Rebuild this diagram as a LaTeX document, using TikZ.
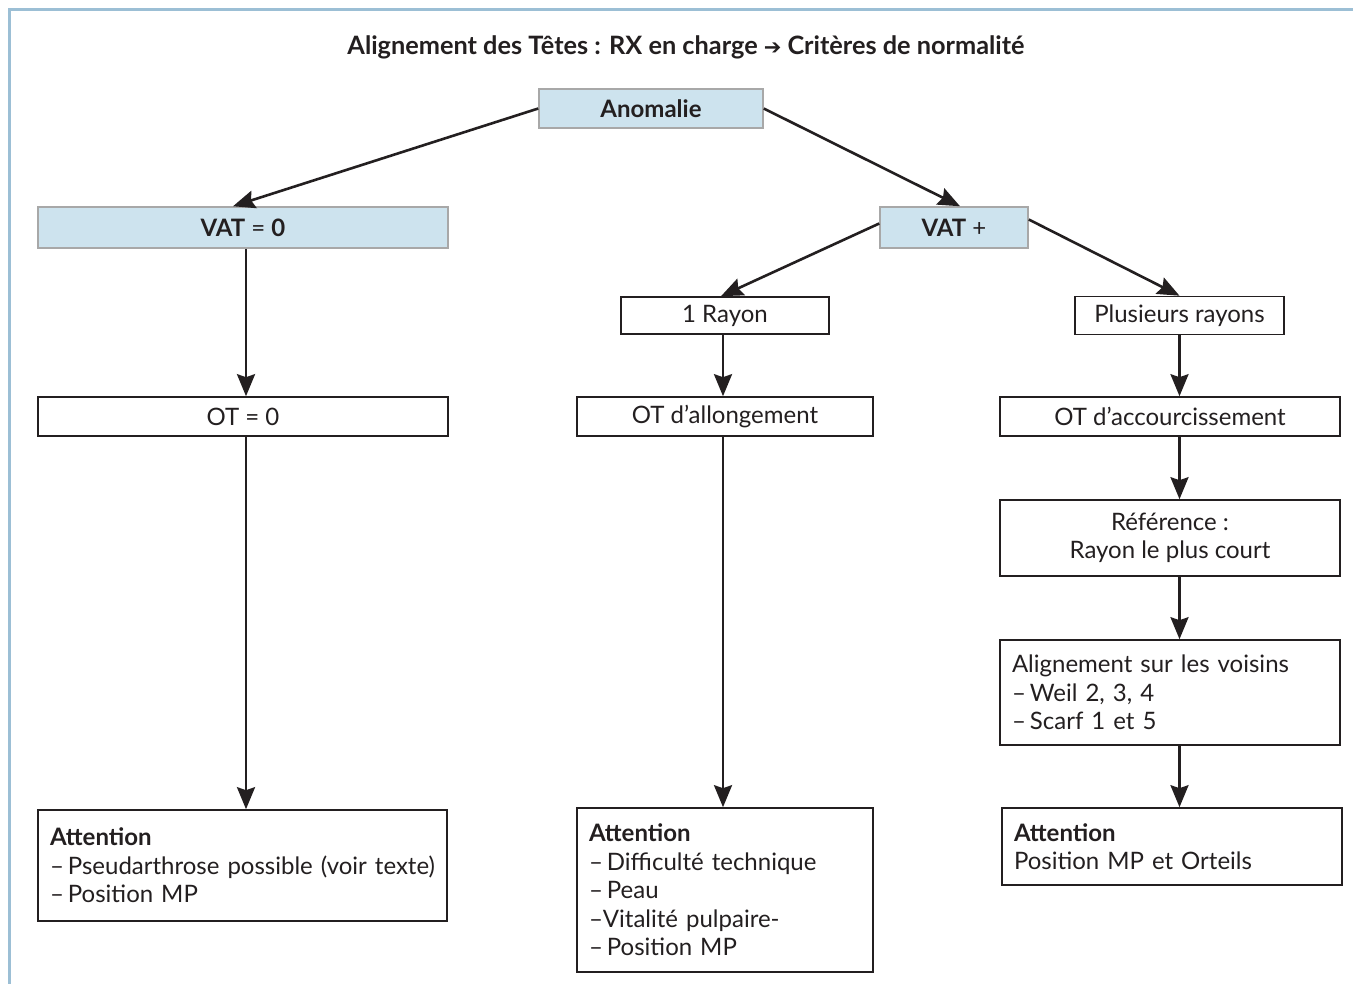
\documentclass[tikz,border=0pt]{standalone}
\usepackage{fontspec}
\setmainfont{Lato}
\newfontfamily\dejavu{DejaVu Sans}
\usetikzlibrary{arrows.meta}
\definecolor{frameblue}{HTML}{9CBFD5}
\definecolor{boxblue}{HTML}{CDE3EE}
\definecolor{boxgray}{HTML}{A8A8A8}
\definecolor{ink}{HTML}{231F20}
\begin{document}
\begin{tikzpicture}[x=1pt,y=-1pt,
  every node/.style={font=\fontsize{24}{28.5}\selectfont, text=ink},
  bluebox/.style={draw=boxgray, line width=1.5pt, fill=boxblue, inner sep=0pt},
  whitebox/.style={draw=ink, line width=1.6pt, fill=white, inner sep=0pt},
  leftbox/.style={whitebox, align=left, inner xsep=12pt},
  arr/.style={draw=ink, line width=2.6pt, -{Stealth[length=22pt,width=18pt,inset=3pt]}}
]
\useasboundingbox (0,0) rectangle (1353,984);
\fill[white] (0,0) rectangle (1353,984);
\draw[frameblue, line width=3pt] (9,984) -- (9,10) -- (1353,10);

\node[font=\fontsize{25.3}{28}\selectfont\bfseries] (title) at (686,47)
  {Alignement des Têtes : RX en charge {\dejavu\mdseries\fontsize{21}{24}\selectfont ➔} Critères de normalité};

\node[bluebox, minimum width=224pt, minimum height=39pt] (anom) at (651,108.5) {\bfseries Anomalie};
\node[bluebox, minimum width=410pt, minimum height=41pt] (vat0) at (243,227.5) {\textbf{VAT} = \textbf{0}};
\node[bluebox, minimum width=148pt, minimum height=41pt] (vatp) at (954,227.5) {\textbf{VAT} +};

\node[whitebox, minimum width=208pt, minimum height=37pt] (ray1) at (725,315.5) {1 Rayon};
\node[whitebox, minimum width=209pt, minimum height=38pt] (plus) at (1179.5,315.5) {Plusieurs rayons};

\node[whitebox, minimum width=410pt, minimum height=39pt] (ot0) at (243,416.5) {OT = 0};
\node[whitebox, minimum width=296pt, minimum height=39pt] (otall) at (725,416.5) {OT d’allongement};
\node[whitebox, minimum width=340pt, minimum height=39pt] (otacc) at (1170,416.5) {OT d’accourcissement};

\node[whitebox, minimum width=340pt, minimum height=76pt, align=center] (ref) at (1170,538) {Référence :\\Rayon le plus court};
\node[leftbox, text width=316pt, minimum height=105pt] (alig) at (1170,692.5)
  {Alignement sur les voisins\\–\,Weil 2, 3, 4\\–\,Scarf 1 et 5};

\node[leftbox, text width=385pt, minimum height=111pt] (att1) at (242.5,865.5)
  {\textbf{Attention}\\–\,Pseudarthrose possible (voir texte)\\–\,Position MP};
\node[leftbox, text width=272pt, minimum height=164pt] (att2) at (725,890)
  {\textbf{Attention}\\–\,Difficulté technique\\–\,Peau\\–Vitalité pulpaire-\\–\,Position MP};
\node[leftbox, text width=316pt, minimum height=77pt] (att3) at (1172,846.5)
  {\textbf{Attention}\\Position MP et Orteils};

\draw[arr] (anom.west) -- ([xshift=-10pt]vat0.north);
\draw[arr] (anom.east) -- ([xshift=6pt]vatp.north);
\draw[arr] ([xshift=3pt]vat0.south) -- ([xshift=3pt]ot0.north);
\draw[arr] ([xshift=3pt]ot0.south) -- ([xshift=3pt]att1.north -| ot0.south);
\draw[arr] ([yshift=4pt]vatp.west) -- ([xshift=-4pt]ray1.north);
\draw[arr] ([yshift=8pt]vatp.east) -- (plus.north);
\draw[arr] ([xshift=-2pt]ray1.south) -- ([xshift=-2pt]otall.north);
\draw[arr] ([xshift=-2pt]otall.south) -- ([xshift=-2pt]att2.north);
\draw[arr] (plus.south) -- (plus.south |- otacc.north);
\draw[arr] (plus.south |- otacc.south) -- (plus.south |- ref.north);
\draw[arr] (plus.south |- ref.south) -- (plus.south |- alig.north);
\draw[arr] (plus.south |- alig.south) -- (plus.south |- att3.north);
\end{tikzpicture}
\end{document}
